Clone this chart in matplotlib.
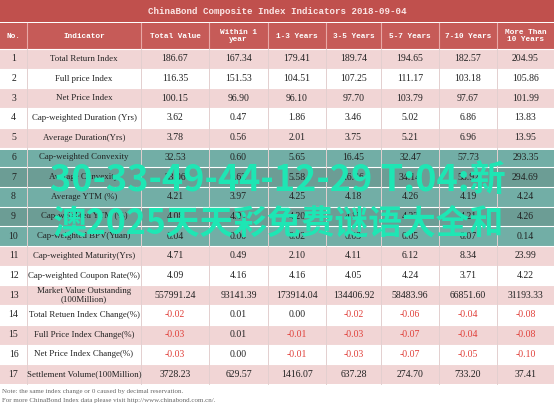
import matplotlib.pyplot as plt
from matplotlib.patches import Rectangle

title = "ChinaBond Composite Index Indicators 2018-09-04"
headers = ["No.", "Indicator", "Total Value", "Within 1\nyear", "1-3 Years",
           "3-5 Years", "5-7 Years", "7-10 Years", "More Than\n10 Years"]

indicators = [
    "Total Return Index",
    "Full price Index",
    "Net Price Index",
    "Cap-weighted Duration (Yrs)",
    "Average Duration(Yrs)",
    "Cap-weighted Convexity",
    "Average Convexity",
    "Average YTM (%)",
    "Cap-weighted YTM (%)",
    "Cap-weighted BPV(Yuan)",
    "Cap-weighted Maturity(Yrs)",
    "Cap-weighted Coupon Rate(%)",
    "Market Value Outstanding\n(100Million)",
    "Total Retuen Index Change(%)",
    "Full Price Index Change(%)",
    "Net Price Index Change(%)",
    "Settlement Volume(100Million)",
]

total_value = ["186.67", "116.35", "100.15", "3.62", "3.78", "32.53", "33.06", "4.21", "4.08",
               "0.04", "4.71", "4.09", "557991.24", "-0.02", "-0.03", "-0.03", "3728.23"]
within_1y = ["167.34", "151.53", "96.90", "0.47", "0.56", "0.60", "0.62", "3.97", "4.01",
             "0.00", "0.49", "4.16", "93141.39", "0.01", "0.01", "0.00", "629.57"]
y1_3 = ["179.41", "104.51", "96.10", "1.86", "2.01", "5.65", "5.58", "4.25", "4.20",
        "0.02", "2.10", "4.16", "173914.04", "0.00", "-0.01", "-0.01", "1416.07"]
y3_5 = ["189.74", "107.25", "97.70", "3.46", "3.75", "16.45", "16.46", "4.18", "4.15",
        "0.03", "4.11", "4.05", "134406.92", "-0.02", "-0.03", "-0.03", "637.28"]
y5_7 = ["194.65", "111.17", "103.79", "5.02", "5.21", "32.47", "34.14", "4.26", "4.23",
        "0.05", "6.12", "4.24", "58483.96", "-0.06", "-0.07", "-0.07", "274.70"]
y7_10 = ["182.57", "103.18", "97.67", "6.86", "6.96", "57.73", "58.92", "4.19", "4.21",
         "0.07", "8.34", "3.71", "66851.60", "-0.04", "-0.04", "-0.05", "733.20"]
over_10y = ["204.95", "105.86", "101.99", "13.83", "13.95", "293.35", "294.69", "4.24", "4.26",
            "0.14", "23.99", "4.22", "31193.33", "-0.08", "-0.08", "-0.10", "37.41"]

notes = ["Note: the same index change or 0 caused by decimal reservation.",
         "For more ChinaBond Index data please visit http://www.chinabond.com.cn/."]

overlay_lines = ["30-33-49-44-12-29 T:04:新", "澳2025天天彩免费谜语大全和"]

# layout in pixels
col_edges = [0, 27, 141, 209, 268, 326, 381, 439, 497, 554]
title_h = 22
head_top, head_bot = 23, 49
row_h = 19.7

red_dark = '#C0504D'
red_head = '#C65B58'
pink = '#F1D5D5'
neg_red = '#E0403A'
serif = ['Liberation Serif', 'DejaVu Serif']
mono = ['Liberation Mono', 'DejaVu Sans Mono']

fig = plt.figure(figsize=(5.54, 4.04), dpi=100)
ax = fig.add_axes([0, 0, 1, 1])
ax.set_xlim(0, 554)
ax.set_ylim(404, 0)
ax.axis('off')

# title bar and header
ax.add_patch(Rectangle((0, 0), 554, title_h, color=red_dark, lw=0))
ax.text(277, title_h / 2, title, ha='center', va='center', color='#FBE6E6',
        fontsize=6.6, family=mono, fontweight='bold')
ax.add_patch(Rectangle((0, head_top), 554, head_bot - head_top, color=red_head, lw=0))
for i, h in enumerate(headers):
    cx = (col_edges[i] + col_edges[i + 1]) / 2
    ax.text(cx, (head_top + head_bot) / 2, h, ha='center', va='center', color='white',
            fontsize=5.6, family=mono, fontweight='bold', linespacing=1.1)
for x in col_edges[1:-1]:
    ax.plot([x, x], [head_top, head_bot], color='#E9A8A6', lw=0.8)

columns = [total_value, within_1y, y1_3, y3_5, y5_7, y7_10, over_10y]
for r in range(len(indicators)):
    top = head_bot + r * row_h
    cy = top + row_h / 2
    if r % 2 == 0:
        ax.add_patch(Rectangle((0, top), 554, row_h, color=pink, lw=0))
    ax.plot([0, 554], [top, top], color='white', lw=0.8)
    ax.text((col_edges[0] + col_edges[1]) / 2, cy, str(r + 1), ha='center', va='center',
            fontsize=7, family=serif, color='#222222')
    t = ax.text((col_edges[1] + col_edges[2]) / 2, cy, indicators[r], ha='center', va='center',
                fontsize=6.4, family=serif, color='#222222', linespacing=0.95)
    if '\n' in indicators[r]:
        t.set_clip_path(Rectangle((col_edges[1], top), col_edges[2] - col_edges[1], row_h,
                                  transform=ax.transData))
    for c, vals in enumerate(columns):
        cx = (col_edges[c + 2] + col_edges[c + 3]) / 2
        v = vals[r]
        ax.text(cx, cy, v, ha='center', va='center', fontsize=7, family=serif,
                color=neg_red if v.startswith('-') else '#222222')

body_bot = head_bot + len(indicators) * row_h
for x in col_edges[1:-1]:
    ax.plot([x, x], [head_bot, body_bot], color='#E3CFCF', lw=0.7)

for i, n in enumerate(notes):
    ax.text(2, body_bot + 7.5 + i * 9.5, n, ha='left', va='center', fontsize=5.0,
            family=serif, color='#666666')

# overlay banner
ax.add_patch(Rectangle((0, 150), 554, 97, facecolor=(0.08, 0.47, 0.42), alpha=0.6, lw=0))
cjk = ['Noto Sans CJK SC', 'DejaVu Sans']
ax.text(50, 181, overlay_lines[0], ha='left', va='center', fontsize=26, family=cjk,
        fontweight='bold', color='#1EE6B4')
ax.text(52, 223, overlay_lines[1], ha='left', va='center', fontsize=24.3, family=cjk,
        fontweight='bold', color='#1EE6B4')

fig.savefig('out.png', dpi=100)
plt.close()
